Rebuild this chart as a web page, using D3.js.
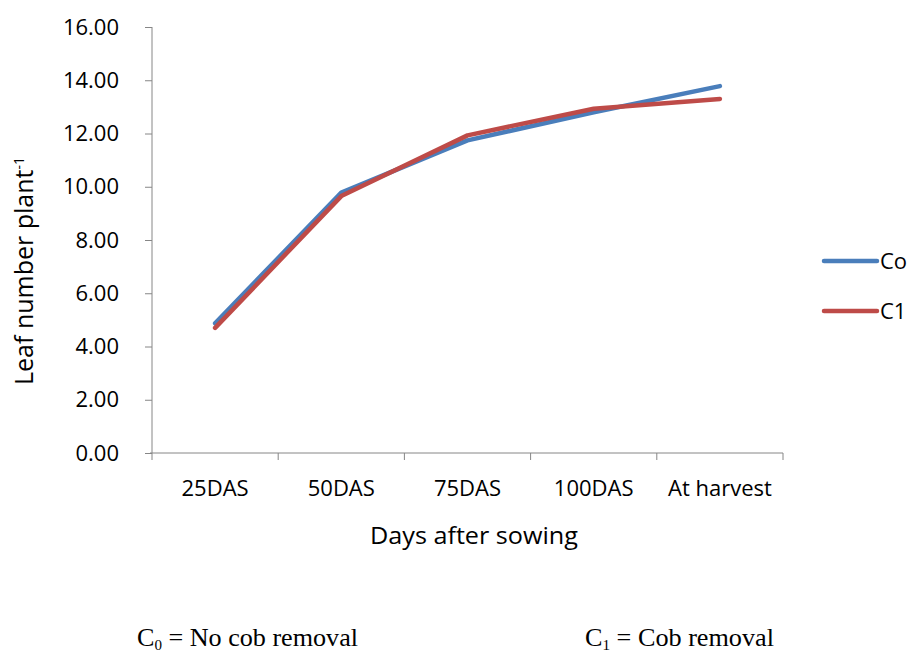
<!DOCTYPE html>
<html>
<head>
<meta charset="utf-8">
<script src="https://cdn.jsdelivr.net/npm/d3@7"></script>
<style>
  body { margin: 0; background: #fff; }
  text { font-family: "Open Sans", sans-serif; fill: #000; }
  .axis path, .axis line { stroke: #868686; }
</style>
</head>
<body>
<svg width="911" height="655"></svg>
<script>
// data
const categories = ["25DAS", "50DAS", "75DAS", "100DAS", "At harvest"];
const co = [4.87, 9.78, 11.74, 12.80, 13.78];
const c1 = [4.70, 9.65, 11.93, 12.93, 13.30];
const yTicks = [0, 2, 4, 6, 8, 10, 12, 14, 16];

const svg = d3.select("svg");
const margin = {left: 152, right: 128, top: 27, bottom: 202};
const width = +svg.attr("width");
const height = +svg.attr("height");

const x = d3.scaleBand().domain(categories).range([margin.left, width - margin.right]);
const y = d3.scaleLinear().domain([0, 16]).range([height - margin.bottom, margin.top]);

// y axis
const yAxis = svg.append("g")
  .attr("class", "axis")
  .attr("transform", `translate(${margin.left},0)`)
  .call(d3.axisLeft(y).tickValues(yTicks).tickFormat(d3.format(".2f")).tickSizeOuter(0).tickSize(7).tickPadding(26));
yAxis.selectAll("text").style("font-size", "22px").attr("fill", "#222");
yAxis.select(".domain").attr("d", `M0,${y(16)}V${y(0)}`);

// x axis, ticks at band edges
const xAxis = svg.append("g")
  .attr("class", "axis")
  .attr("transform", `translate(0,${y(0)})`);
xAxis.append("line")
  .attr("x1", margin.left - 2).attr("x2", width - margin.right)
  .attr("stroke", "#868686");
const edges = categories.map(c => x(c)).concat([x(categories[4]) + x.bandwidth()]);
xAxis.selectAll(".edge").data(edges).enter().append("line")
  .attr("x1", d => d).attr("x2", d => d)
  .attr("y1", 0).attr("y2", 7)
  .attr("stroke", "#868686");
xAxis.selectAll(".lbl").data(categories).enter().append("text")
  .attr("x", d => x(d) + x.bandwidth() / 2)
  .attr("y", 43)
  .attr("text-anchor", "middle")
  .style("font-size", "22px")
  .attr("fill", "#222")
  .text(d => d);

// lines
const line = d3.line()
  .x((d, i) => x(categories[i]) + x.bandwidth() / 2)
  .y(d => y(d));

const series = [
  {name: "Co", values: co, color: "#4a7ebb"},
  {name: "C1", values: c1, color: "#be4b48"}
];

svg.selectAll(".series").data(series).enter().append("path")
  .attr("d", d => line(d.values))
  .attr("fill", "none")
  .attr("stroke", d => d.color)
  .attr("stroke-width", 4.5)
  .attr("stroke-linejoin", "round")
  .attr("stroke-linecap", "round");

// legend
const legend = svg.append("g");
series.forEach((s, i) => {
  const ly = 261 + i * 50;
  legend.append("line")
    .attr("x1", 824).attr("x2", 877)
    .attr("y1", ly).attr("y2", ly)
    .attr("stroke", s.color).attr("stroke-width", 4.5)
    .attr("stroke-linecap", "round");
  legend.append("text")
    .attr("x", 880).attr("y", ly)
    .attr("dy", "0.36em")
    .style("font-size", "22px")
    .attr("fill", "#222")
    .text(s.name);
});

// axis titles
svg.append("text")
  .attr("transform", "translate(33,271) rotate(-90)")
  .attr("text-anchor", "middle")
  .style("font-size", "25px")
  .attr("fill", "#222")
  .html('Leaf number plant<tspan dy="-9" font-size="14px">-1</tspan>');

svg.append("text")
  .attr("x", 474)
  .attr("y", 544)
  .attr("text-anchor", "middle")
  .attr("textLength", 208)
  .attr("lengthAdjust", "spacingAndGlyphs")
  .style("font-size", "24px")
  .attr("fill", "#222")
  .text("Days after sowing");

// footnotes
const notes = [
  {sub: "0", rest: " = No cob removal", x: 137, len: 221},
  {sub: "1", rest: " = Cob removal", x: 585, len: 189}
];
notes.forEach(n => {
  const t = svg.append("text")
    .attr("x", n.x).attr("y", 646)
    .attr("textLength", n.len)
    .attr("lengthAdjust", "spacingAndGlyphs")
    .style("font-family", "'Liberation Serif', serif")
    .style("font-size", "26px");
  t.append("tspan").text("C");
  t.append("tspan").attr("dy", 4).style("font-size", "15px").text(n.sub);
  t.append("tspan").attr("dy", -4).text(n.rest);
});
</script>
</body>
</html>
